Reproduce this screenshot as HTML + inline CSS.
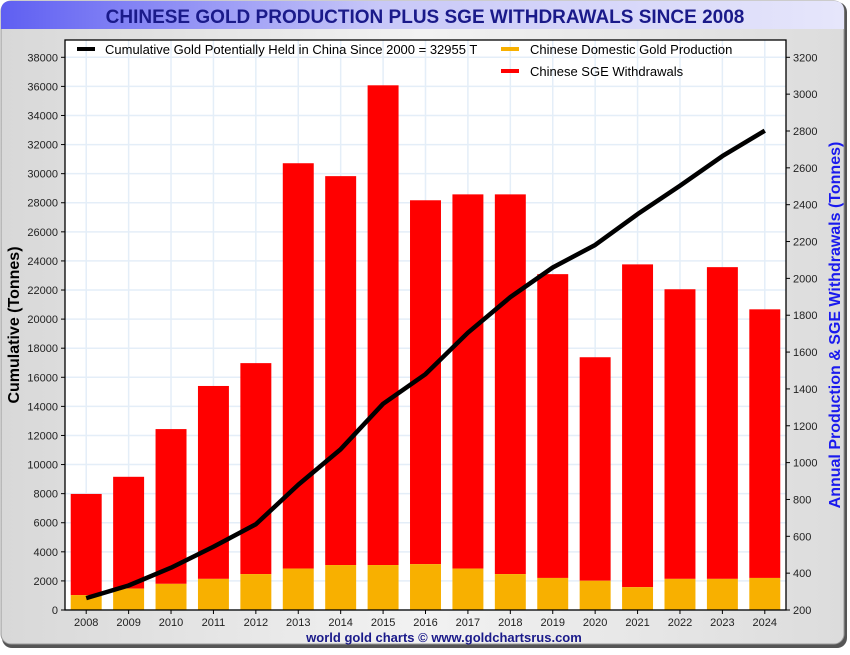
<!DOCTYPE html>
<html><head><meta charset="utf-8"><style>
body{margin:0;width:850px;height:650px;overflow:hidden;background:#fff;font-family:"Liberation Sans",sans-serif}
</style></head><body>
<svg id="chart" width="850" height="650" xmlns="http://www.w3.org/2000/svg" font-family="Liberation Sans, sans-serif">
<defs>
<linearGradient id="bg" x1="0" y1="0" x2="1" y2="0"><stop offset="0" stop-color="#d8d8d8"/><stop offset="0.5" stop-color="#f2f2f2"/><stop offset="1" stop-color="#dcdcdc"/></linearGradient>
<linearGradient id="tb" x1="0" y1="0" x2="1" y2="0"><stop offset="0" stop-color="#5f5ff2"/><stop offset="0.45" stop-color="#c8c8f8"/><stop offset="1" stop-color="#e6e6fb"/></linearGradient>
</defs>
<rect x="2" y="2" width="845" height="646" rx="10" fill="#555"/>
<rect x="1" y="1" width="843" height="643" rx="10" fill="url(#bg)" stroke="#999"/>
<path d="M1,29 L1,11 Q1,1 11,1 L834,1 Q844,1 844,11 L844,29 Z" fill="url(#tb)"/>
<text x="425" y="23" text-anchor="middle" font-size="19" font-weight="bold" fill="#1a1a8a">CHINESE GOLD PRODUCTION PLUS SGE WITHDRAWALS SINCE 2008</text>
<rect x="65" y="40" width="721" height="570" fill="#fff"/>
<g id="grid"></g><g id="bars"></g><g id="line"></g>
<rect x="65" y="40" width="721" height="570" fill="none" stroke="#000" stroke-width="1.3"/>
<g id="axes" font-size="11"></g>
<text transform="translate(19,325) rotate(-90)" text-anchor="middle" font-size="16" font-weight="bold" fill="#000">Cumulative (Tonnes)</text>
<text transform="translate(840,325) rotate(-90)" text-anchor="middle" font-size="16" font-weight="bold" fill="#1a1aee">Annual Production &amp; SGE Withdrawals (Tonnes)</text>
<text x="444" y="642" text-anchor="middle" font-size="13" font-weight="bold" fill="#1a1a8a">world gold charts © www.goldchartsrus.com</text>
<g font-size="13">
<g><rect x="77" y="47" width="18" height="4" fill="#000"/><text x="105" y="54" fill="#000">Cumulative Gold Potentially Held in China Since 2000 = 32955 T</text></g>
<g><rect x="501" y="47" width="18" height="4" fill="#f8b000"/><text x="530" y="54" fill="#000">Chinese Domestic Gold Production</text></g>
<g><rect x="501" y="69" width="18" height="4" fill="#ff0000"/><text x="530" y="76" fill="#000">Chinese SGE Withdrawals</text></g>
</g>
</svg>
<script>
const years=["2008","2009","2010","2011","2012","2013","2014","2015","2016","2017","2018","2019","2020","2021","2022","2023","2024"];
const production=[281,316,342,369,395,425,444,444,449,425,395,374,359,324,369,369,374];
const sge=[549,607,840,1047,1145,2200,2111,2604,1975,2031,2061,1649,1213,1752,1572,1692,1458];
const cumulative=[815,1684,2906,4346,5894,8610,11054,14178,16215,19066,21510,23548,25096,27214,29170,31207,32955];
const leftTicks=[0,2000,4000,6000,8000,10000,12000,14000,16000,18000,20000,22000,24000,26000,28000,30000,32000,34000,36000,38000];
const rightTicks=[200,400,600,800,1000,1200,1400,1600,1800,2000,2200,2400,2600,2800,3000,3200];
const NS="http://www.w3.org/2000/svg";
const X0=65,X1=786,YB=610,YT38=57.3;
const band=(X1-X0)/years.length;
const xc=i=>X0+band*(i+0.5);
const yL=v=>YB-v*(YB-YT38)/38000;
const yR=v=>YB-(v-200)*(YB-YT38)/3000;
function mk(t,a,p){const e=document.createElementNS(NS,t);for(const k in a)e.setAttribute(k,a[k]);p.appendChild(e);return e;}
const grid=document.getElementById('grid'),bars=document.getElementById('bars'),line=document.getElementById('line'),axes=document.getElementById('axes');
leftTicks.forEach(v=>{const g=mk('line',{x1:X0,x2:X1,y1:yL(v),y2:yL(v),stroke:'#e4eef8','stroke-width':1.5},grid);


const t=mk('text',{x:X0-7,y:yL(v)+4,'text-anchor':'end',fill:'#222'},axes);t.textContent=v;


mk('line',{x1:X0-4,x2:X0,y1:yL(v),y2:yL(v),stroke:'#000'},axes);});
rightTicks.forEach(v=>{const t=mk('text',{x:X1+7,y:yR(v)+4,fill:'#222'},axes);t.textContent=v;


mk('line',{x1:X1,x2:X1+4,y1:yR(v),y2:yR(v),stroke:'#000'},axes);});
const bw=band*0.73;
years.forEach((yr,i)=>{
const g=mk('line',{x1:xc(i),x2:xc(i),y1:40,y2:YB,stroke:'#e4eef8','stroke-width':1.5},grid);


const tot=production[i]+sge[i];
const r=mk('rect',{x:xc(i)-bw/2,y:yR(tot),width:bw,height:yR(production[i])-yR(tot),fill:'#ff0000'},bars);


const p=mk('rect',{x:xc(i)-bw/2,y:yR(production[i]),width:bw,height:YB-yR(production[i]),fill:'#f8b000'},bars);


mk('line',{x1:xc(i),x2:xc(i),y1:YB,y2:YB+4,stroke:'#000'},axes);
const t=mk('text',{x:xc(i),y:YB+16,'text-anchor':'middle',fill:'#222'},axes);t.textContent=yr;


});
const pl=mk('polyline',{points:cumulative.map((v,i)=>xc(i)+','+yL(v)).join(' '),fill:'none',stroke:'#000','stroke-width':4.5,'stroke-linejoin':'round'},line);


</script>
</body></html>
